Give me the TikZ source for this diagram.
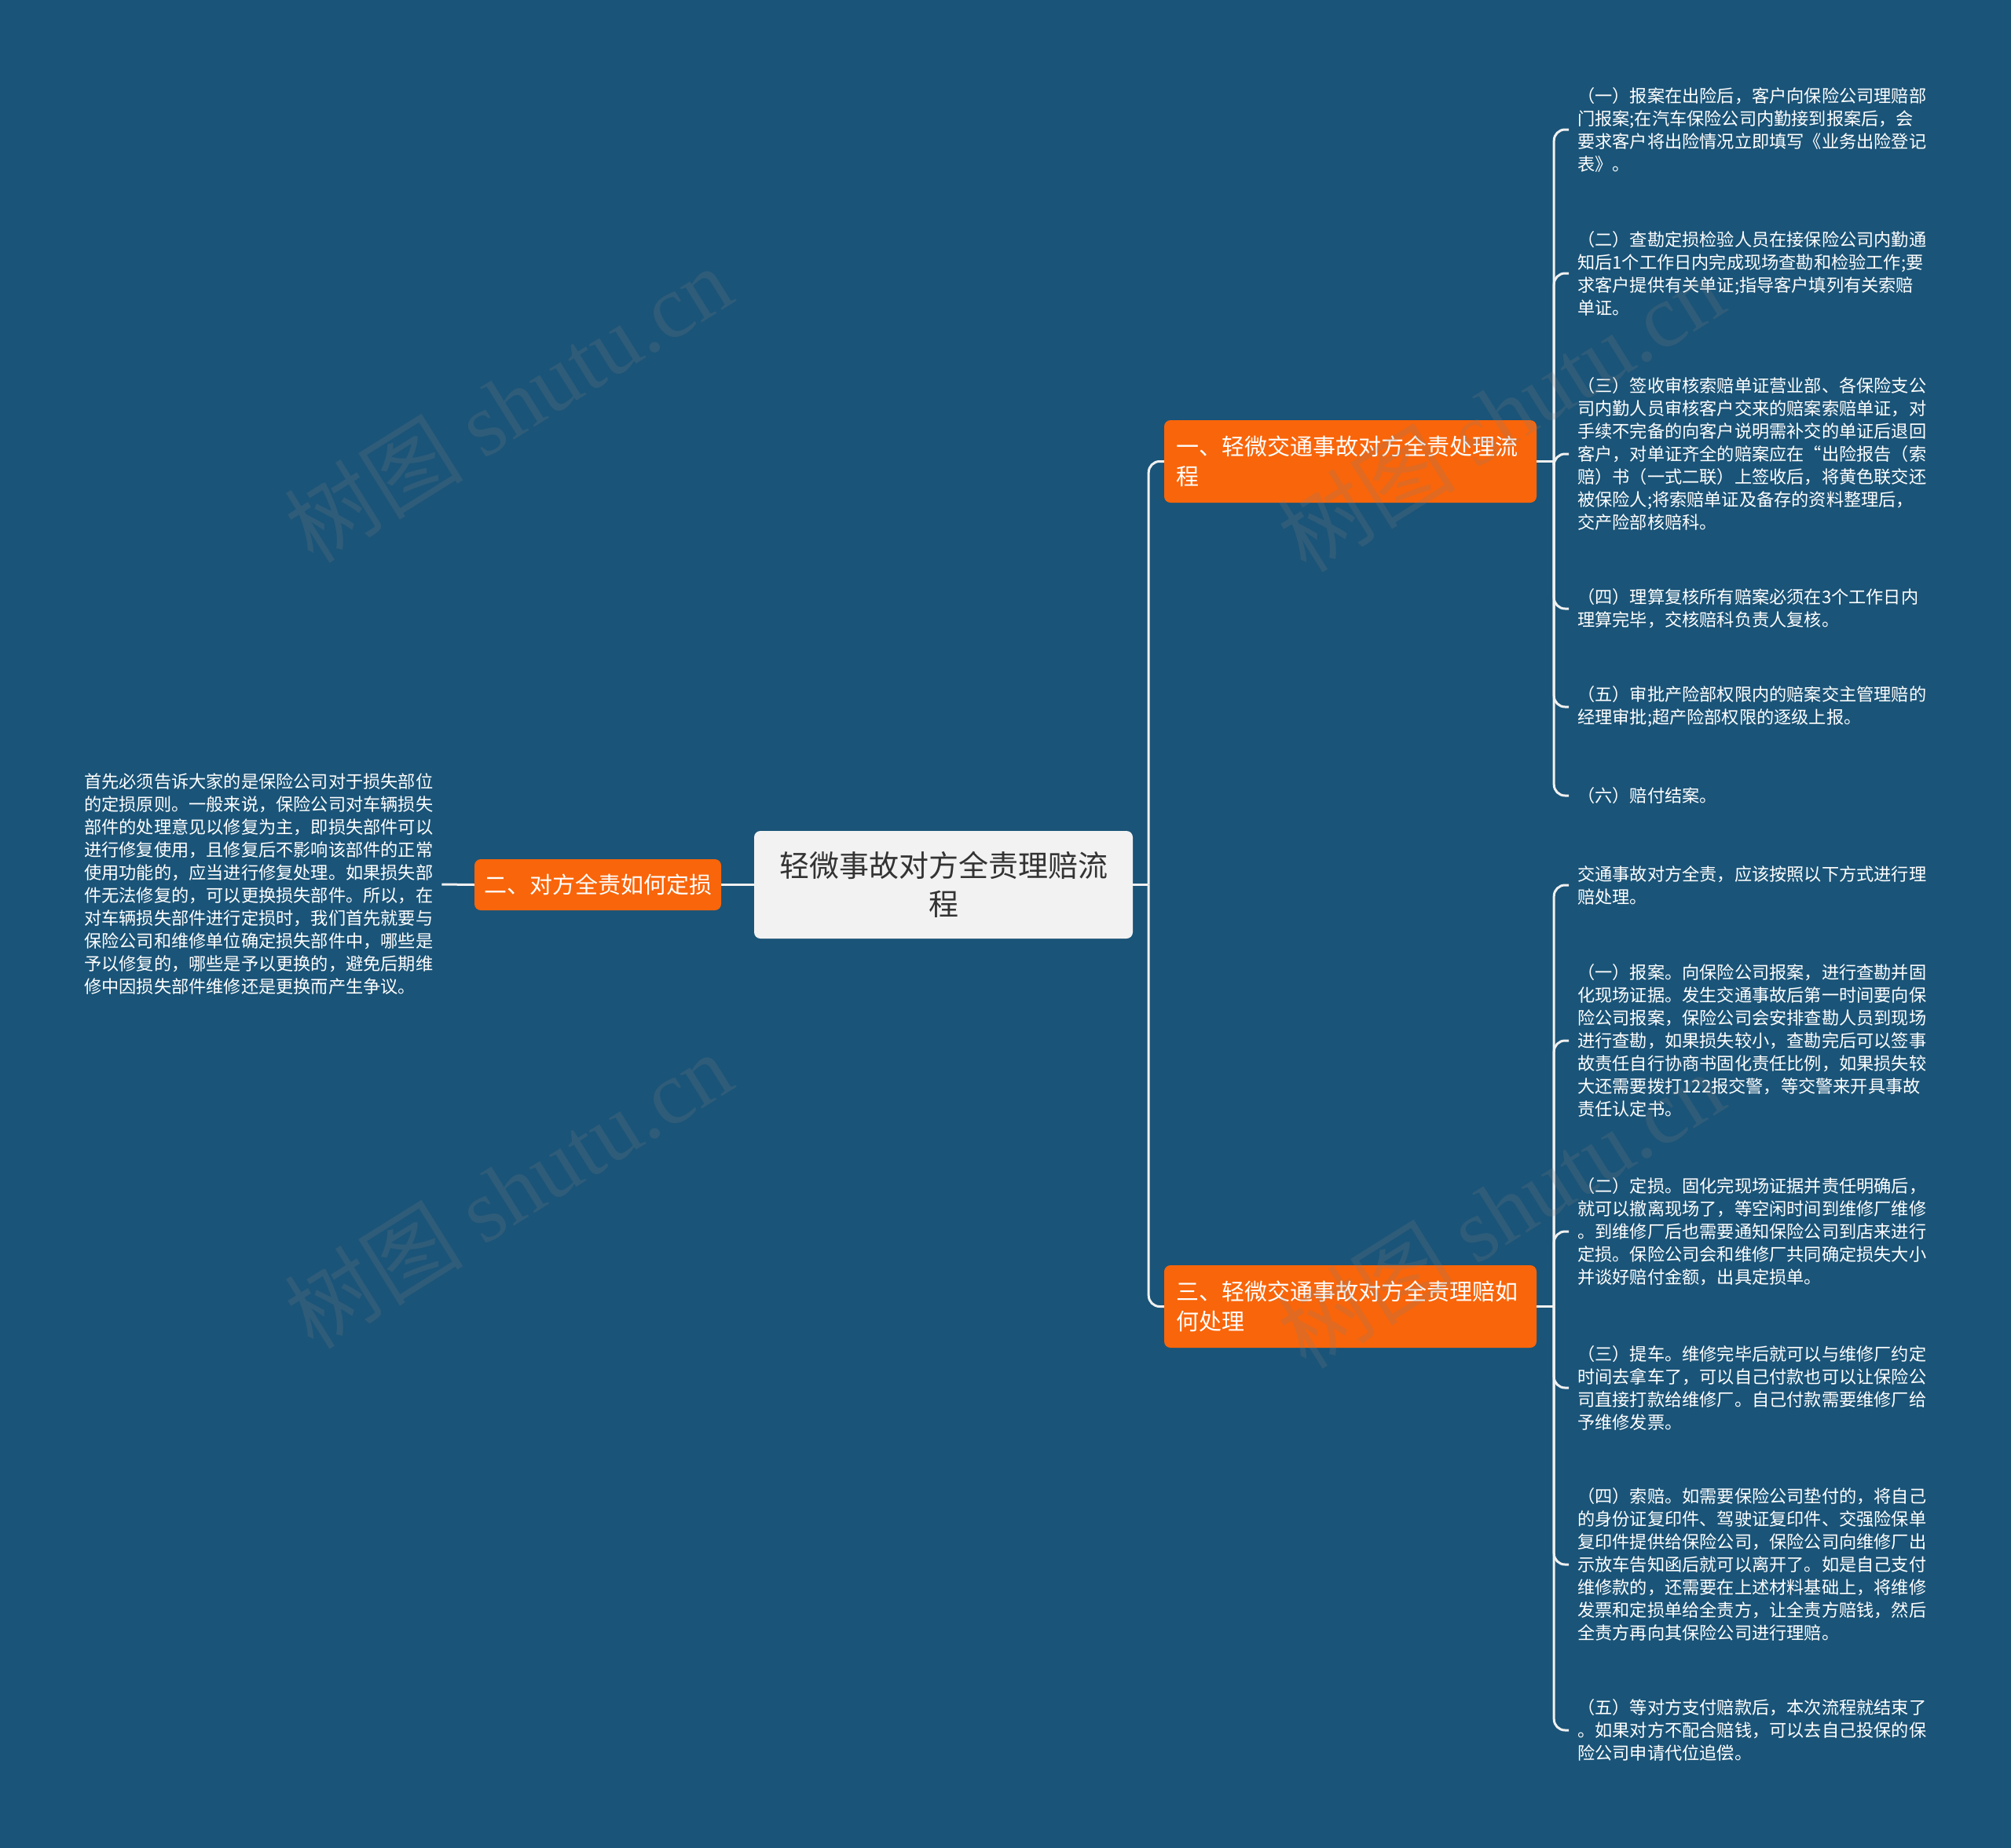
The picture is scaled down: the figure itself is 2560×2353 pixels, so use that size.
\documentclass[tikz,border=0pt]{standalone}
\usepackage{fontspec}
\setmainfont{Noto Sans CJK SC}
\newfontfamily\wmfont{Liberation Serif}
\usetikzlibrary{calc}
\definecolor{bg}{HTML}{1A5478}
\definecolor{orng}{HTML}{F9650A}
\definecolor{rootfill}{HTML}{F2F2F2}
\definecolor{roottext}{HTML}{333333}
\definecolor{linec}{HTML}{F0F0F0}
\definecolor{wmgray}{HTML}{808080}
\begin{document}
\begin{tikzpicture}[x=1pt,y=-1pt,
  conn/.style={draw=linec, line width=3pt},
  rconn/.style={conn, rounded corners=14pt},
  leaf/.style={anchor=west, align=left, text=white, inner xsep=11pt, inner ysep=0pt, font=\fontsize{22.2}{29}\selectfont},
  branch/.style={fill=orng, rounded corners=8pt, text=white, align=left, text width=444pt, inner xsep=15pt, minimum height=105pt, font=\fontsize{29}{38}\selectfont},
  smallbranch/.style={fill=orng, rounded corners=8pt, text=white, minimum width=314pt, minimum height=65pt, inner xsep=0pt, font=\fontsize{29}{38}\selectfont},
  rootbox/.style={fill=rootfill, rounded corners=8pt, text=roottext, align=center, minimum width=482pt, minimum height=137pt, font=\fontsize{38}{49}\selectfont},
  wm/.style={text=wmgray, opacity=0.2, rotate=32, font=\fontsize{114}{120}\selectfont}
]
\fill[bg] (0,0) rectangle (2560,2353);
\useasboundingbox (0,0) rectangle (2560,2353);

% main nodes
\node[rootbox] (root) at (1201,1126.5) {轻微事故对方全责理赔流\\程};
\node[branch] (b1) at (1719,587.5) {一、轻微交通事故对方全责处理流\\程};
\node[branch] (b3) at (1719,1663.5) {三、轻微交通事故对方全责理赔如\\何处理};
\node[smallbranch] (b2) at (761,1126.5) {二、对方全责如何定损};

% left leaf
\node[leaf] (left) at (96,1126) {首先必须告诉大家的是保险公司对于损失部位\\的定损原则。一般来说，保险公司对车辆损失\\部件的处理意见以修复为主，即损失部件可以\\进行修复使用，且修复后不影响该部件的正常\\使用功能的，应当进行修复处理。如果损失部\\件无法修复的，可以更换损失部件。所以，在\\对车辆损失部件进行定损时，我们首先就要与\\保险公司和维修单位确定损失部件中，哪些是\\予以修复的，哪些是予以更换的，避免后期维\\修中因损失部件维修还是更换而产生争议。};

% upper leaves
\node[leaf] (u1) at (1997,165) {（一）报案在出险后，客户向保险公司理赔部\\门报案;在汽车保险公司内勤接到报案后，会\\要求客户将出险情况立即填写《业务出险登记\\表》。};
\node[leaf] (u2) at (1997,348) {（二）查勘定损检验人员在接保险公司内勤通\\知后1个工作日内完成现场查勘和检验工作;要\\求客户提供有关单证;指导客户填列有关索赔\\单证。};
\node[leaf] (u3) at (1997,578) {（三）签收审核索赔单证营业部、各保险支公\\司内勤人员审核客户交来的赔案索赔单证，对\\手续不完备的向客户说明需补交的单证后退回\\客户，对单证齐全的赔案应在“出险报告（索\\赔）书（一式二联）上签收后，将黄色联交还\\被保险人;将索赔单证及备存的资料整理后，\\交产险部核赔科。};
\node[leaf] (u4) at (1997,775) {（四）理算复核所有赔案必须在3个工作日内\\理算完毕，交核赔科负责人复核。};
\node[leaf] (u5) at (1997,900) {（五）审批产险部权限内的赔案交主管理赔的\\经理审批;超产险部权限的逐级上报。};
\node[leaf] (u6) at (1997,1013) {（六）赔付结案。};

% lower leaves
\node[leaf] (m1) at (1997,1127) {交通事故对方全责，应该按照以下方式进行理\\赔处理。};
\node[leaf] (m2) at (1997,1325) {（一）报案。向保险公司报案，进行查勘并固\\化现场证据。发生交通事故后第一时间要向保\\险公司报案，保险公司会安排查勘人员到现场\\进行查勘，如果损失较小，查勘完后可以签事\\故责任自行协商书固化责任比例，如果损失较\\大还需要拨打122报交警，等交警来开具事故\\责任认定书。};
\node[leaf] (m3) at (1997,1568) {（二）定损。固化完现场证据并责任明确后，\\就可以撤离现场了，等空闲时间到维修厂维修\\。到维修厂后也需要通知保险公司到店来进行\\定损。保险公司会和维修厂共同确定损失大小\\并谈好赔付金额，出具定损单。};
\node[leaf] (m4) at (1997,1767) {（三）提车。维修完毕后就可以与维修厂约定\\时间去拿车了，可以自己付款也可以让保险公\\司直接打款给维修厂。自己付款需要维修厂给\\予维修发票。};
\node[leaf] (m5) at (1997,1992) {（四）索赔。如需要保险公司垫付的，将自己\\的身份证复印件、驾驶证复印件、交强险保单\\复印件提供给保险公司，保险公司向维修厂出\\示放车告知函后就可以离开了。如是自己支付\\维修款的，还需要在上述材料基础上，将维修\\发票和定损单给全责方，让全责方赔钱，然后\\全责方再向其保险公司进行理赔。};
\node[leaf] (m6) at (1997,2203) {（五）等对方支付赔款后，本次流程就结束了\\。如果对方不配合赔钱，可以去自己投保的保\\险公司申请代位追偿。};

% connectors
\coordinate (j0) at ($(root.east)+(20,0)$);
\draw[conn] (root.east) -- (j0);
\draw[rconn] (j0) |- (b1.west);
\draw[rconn] (j0) |- (b3.west);
\draw[conn] (root.west) -- (b2.east);
\draw[conn] (b2.west) -- (left.east);

\coordinate (j1) at ($(b1.east)+(22,0)$);
\draw[conn] (b1.east) -- (j1);
\foreach \n in {u1,u2,u3,u4,u5,u6} \draw[rconn] (j1) |- (\n.west);

\coordinate (j3) at ($(b3.east)+(22,0)$);
\draw[conn] (b3.east) -- (j3);
\foreach \n in {m1,m2,m3,m4,m5,m6} \draw[rconn] (j3) |- (\n.west);

% watermarks
\node[wm] (w1) at (647,514) {树图 {\wmfont shutu.cn}};
\node[wm] (w2) at (647,1515) {树图 {\wmfont shutu.cn}};
\node[wm] (w4) at (1910,526) {树图 {\wmfont shutu.cn}};
\node[wm] (w5) at (1910,1540) {树图 {\wmfont shutu.cn}};
\end{tikzpicture}
\end{document}
